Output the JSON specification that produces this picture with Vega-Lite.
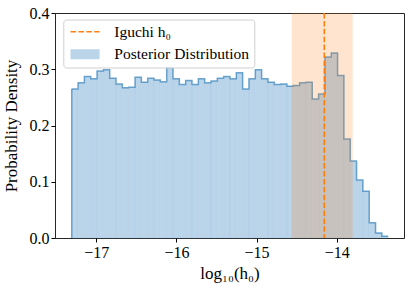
{
  "$schema": "https://vega.github.io/schema/vega-lite/v6.json",
  "autosize": {"type": "none"},
  "width": 349,
  "height": 225,
  "padding": {"left": 55, "top": 13, "right": 11, "bottom": 53},
  "background": "white",
  "config": {
    "font": "Liberation Serif",
    "view": {"stroke": "#262626", "strokeWidth": 1},
    "axis": {
      "grid": false,
      "domain": false,
      "labelFont": "Liberation Serif",
      "labelFontSize": 16,
      "labelColor": "#000",
      "tickColor": "#000",
      "tickSize": 4,
      "tickWidth": 1,
      "labelPadding": 2,
      "titleFont": "Liberation Serif",
      "titleFontSize": 17,
      "titleFontWeight": "normal",
      "titleColor": "#000"
    }
  },
  "datasets": {
    "hist": [
      {"start": -17.307, "end": -17.228, "density": 0.265},
      {"start": -17.228, "end": -17.149, "density": 0.276},
      {"start": -17.149, "end": -17.070, "density": 0.287},
      {"start": -17.070, "end": -16.991, "density": 0.283},
      {"start": -16.991, "end": -16.912, "density": 0.297},
      {"start": -16.912, "end": -16.833, "density": 0.299},
      {"start": -16.833, "end": -16.754, "density": 0.284},
      {"start": -16.754, "end": -16.675, "density": 0.274},
      {"start": -16.675, "end": -16.596, "density": 0.267},
      {"start": -16.596, "end": -16.517, "density": 0.268},
      {"start": -16.517, "end": -16.438, "density": 0.286},
      {"start": -16.438, "end": -16.359, "density": 0.277},
      {"start": -16.359, "end": -16.280, "density": 0.284},
      {"start": -16.280, "end": -16.201, "density": 0.281},
      {"start": -16.201, "end": -16.122, "density": 0.278},
      {"start": -16.122, "end": -16.043, "density": 0.303},
      {"start": -16.043, "end": -15.964, "density": 0.283},
      {"start": -15.964, "end": -15.885, "density": 0.273},
      {"start": -15.885, "end": -15.806, "density": 0.280},
      {"start": -15.806, "end": -15.727, "density": 0.273},
      {"start": -15.727, "end": -15.648, "density": 0.283},
      {"start": -15.648, "end": -15.569, "density": 0.276},
      {"start": -15.569, "end": -15.490, "density": 0.279},
      {"start": -15.490, "end": -15.411, "density": 0.284},
      {"start": -15.411, "end": -15.332, "density": 0.287},
      {"start": -15.332, "end": -15.253, "density": 0.283},
      {"start": -15.253, "end": -15.174, "density": 0.294},
      {"start": -15.174, "end": -15.095, "density": 0.265},
      {"start": -15.095, "end": -15.016, "density": 0.283},
      {"start": -15.016, "end": -14.937, "density": 0.299},
      {"start": -14.937, "end": -14.858, "density": 0.283},
      {"start": -14.858, "end": -14.779, "density": 0.277},
      {"start": -14.779, "end": -14.700, "density": 0.273},
      {"start": -14.700, "end": -14.621, "density": 0.274},
      {"start": -14.621, "end": -14.542, "density": 0.270},
      {"start": -14.542, "end": -14.463, "density": 0.271},
      {"start": -14.463, "end": -14.384, "density": 0.276},
      {"start": -14.384, "end": -14.305, "density": 0.277},
      {"start": -14.305, "end": -14.226, "density": 0.247},
      {"start": -14.226, "end": -14.147, "density": 0.256},
      {"start": -14.147, "end": -14.068, "density": 0.322},
      {"start": -14.068, "end": -13.989, "density": 0.329},
      {"start": -13.989, "end": -13.910, "density": 0.289},
      {"start": -13.910, "end": -13.831, "density": 0.176},
      {"start": -13.831, "end": -13.752, "density": 0.137},
      {"start": -13.752, "end": -13.673, "density": 0.103},
      {"start": -13.673, "end": -13.594, "density": 0.083},
      {"start": -13.594, "end": -13.515, "density": 0.027},
      {"start": -13.515, "end": -13.436, "density": 0.009},
      {"start": -13.436, "end": -13.357, "density": 0.003}
    ],
    "iguchi": [
      {"h0": -14.155, "lo": -14.562, "hi": -13.80, "label": "Iguchi h₀"}
    ]
  },
  "layer": [
    {
      "data": {"name": "hist"},
      "mark": {"type": "rect", "stroke": "#9cc0df", "strokeWidth": 0.4, "strokeOpacity": 0.5},
      "encoding": {
        "x": {
          "field": "start", "type": "quantitative",
          "scale": {"domain": [-17.516, -13.16], "nice": false, "zero": false},
          "axis": {"values": [-17, -16, -15, -14], "format": "d", "title": "log₁₀(h₀)", "titlePadding": 5}
        },
        "x2": {"field": "end"},
        "y": {
          "field": "density", "type": "quantitative",
          "scale": {"domain": [0, 0.4], "nice": false, "zero": true},
          "axis": {"values": [0, 0.1, 0.2, 0.3, 0.4], "format": ".1f", "title": "Probability Density", "titlePadding": 9}
        },
        "y2": {"datum": 0},
        "color": {
          "datum": "Posterior Distribution",
          "type": "nominal",
          "scale": {"domain": ["Iguchi h₀", "Posterior Distribution"], "range": ["transparent", "#bad4e9"]},
          "legend": {
            "title": null,
            "orient": "none",
            "legendX": 8.3,
            "legendY": 6.5,
            "padding": 4.5,
            "rowPadding": 5.5,
            "labelOffset": 31,
            "labelFont": "Liberation Serif",
            "labelFontSize": 15.5,
            "labelColor": "#000",
            "fillColor": "rgba(255,255,255,0.8)",
            "strokeColor": "#d0d0d0",
            "cornerRadius": 3,
            "symbolType": "M-1,-1H4.8V1H-1Z",
            "symbolSize": 100,
            "symbolStrokeWidth": 0
          }
        }
      }
    },
    {
      "data": {"name": "hist"},
      "transform": [{"fold": ["start", "end"], "as": ["edge_key", "edge"]}],
      "mark": {"type": "line", "stroke": "#1f77b4", "strokeOpacity": 0.6, "strokeWidth": 1.5, "strokeJoin": "miter"},
      "encoding": {
        "x": {"field": "edge", "type": "quantitative"},
        "y": {"field": "density", "type": "quantitative"},
        "order": [{"field": "edge", "type": "quantitative"}, {"field": "edge_key", "type": "nominal", "sort": "ascending"}]
      }
    },
    {
      "data": {"name": "hist"},
      "transform": [{"filter": "datum.start < -17.3"}],
      "mark": {"type": "rule", "stroke": "#1f77b4", "strokeOpacity": 0.6, "strokeWidth": 1.5},
      "encoding": {
        "x": {"field": "start", "type": "quantitative"},
        "y": {"field": "density", "type": "quantitative"},
        "y2": {"datum": 0}
      }
    },
    {
      "data": {"name": "iguchi"},
      "mark": {"type": "rect", "fill": "#ff7f0e", "opacity": 0.2},
      "encoding": {
        "x": {"field": "lo", "type": "quantitative"},
        "x2": {"field": "hi"}
      }
    },
    {
      "data": {"name": "iguchi"},
      "mark": {"type": "rule", "color": "#ff7f0e", "strokeWidth": 1.6, "strokeDash": [5.5, 2.4]},
      "encoding": {
        "x": {"field": "h0", "type": "quantitative"},
        "strokeDash": {
          "datum": "Iguchi h₀",
          "type": "nominal",
          "scale": {"domain": ["Iguchi h₀"], "range": [[5.5, 2.4]]},
          "legend": {
            "title": null,
            "orient": "none",
            "legendX": 12.8,
            "legendY": 11,
            "padding": 0,
            "labelOpacity": 0,
            "labelOffset": 31,
            "labelFontSize": 15.5,
            "symbolType": "M-1,0H4.8",
            "symbolSize": 100,
            "symbolStrokeColor": "#ff7f0e",
            "symbolStrokeWidth": 1.6,
            "symbolFillColor": "transparent",
            "symbolDash": [5.5, 2.4]
          }
        }
      }
    }
  ]
}
